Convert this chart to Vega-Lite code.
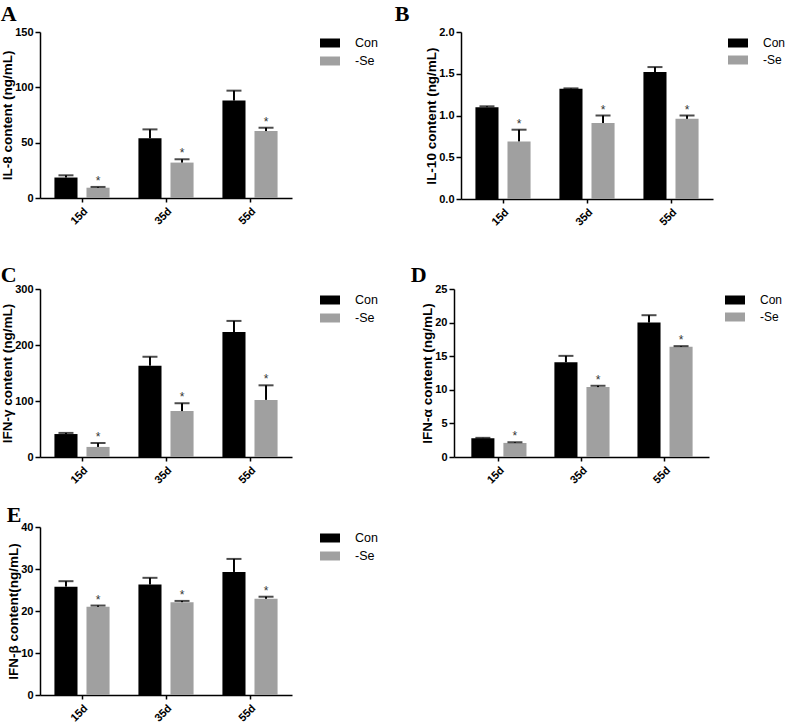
{
  "$schema": "https://vega.github.io/schema/vega-lite/v6.json",
  "background": "white",
  "padding": {"left": 0, "top": 3, "right": 0, "bottom": 0},
  "config": {
    "view": {"stroke": null},
    "font": "Liberation Sans",
    "axis": {"domainColor": "black", "domainWidth": 1.5, "tickColor": "black", "tickWidth": 1.5, "labelFont": "Liberation Sans", "labelFontWeight": "bold", "labelFontSize": 11, "labelColor": "black", "titleFont": "Liberation Sans", "titleFontSize": 13.5, "titleFontWeight": "bold", "titleColor": "black", "grid": false, "tickSize": 5, "labelPadding": 2, "titlePadding": 0},
    "axisX": {"labelAngle": -45, "tickSize": 4, "labelPadding": 3},
    "title": {"font": "Liberation Serif", "fontSize": 22, "fontWeight": "bold", "anchor": "start", "color": "black"},
    "legend": {"labelFont": "Liberation Sans", "labelFontSize": 12.5, "labelColor": "black", "labelOffset": 16, "rowPadding": 2, "offset": 27, "padding": 2}
  },
  "datasets": {
    "A": [
      {"day": "15d", "group": "Con", "value": 18.5, "upper": 20.5, "sig": false},
      {"day": "15d", "group": "-Se", "value": 9.3, "upper": 10, "sig": true},
      {"day": "35d", "group": "Con", "value": 54, "upper": 62, "sig": false},
      {"day": "35d", "group": "-Se", "value": 32, "upper": 35, "sig": true},
      {"day": "55d", "group": "Con", "value": 88, "upper": 97, "sig": false},
      {"day": "55d", "group": "-Se", "value": 60.5, "upper": 63.5, "sig": true}
    ],
    "B": [
      {"day": "15d", "group": "Con", "value": 1.10, "upper": 1.11, "sig": false},
      {"day": "15d", "group": "-Se", "value": 0.69, "upper": 0.83, "sig": true},
      {"day": "35d", "group": "Con", "value": 1.32, "upper": 1.325, "sig": false},
      {"day": "35d", "group": "-Se", "value": 0.91, "upper": 1.0, "sig": true},
      {"day": "55d", "group": "Con", "value": 1.52, "upper": 1.58, "sig": false},
      {"day": "55d", "group": "-Se", "value": 0.96, "upper": 1.0, "sig": true}
    ],
    "C": [
      {"day": "15d", "group": "Con", "value": 41, "upper": 43, "sig": false},
      {"day": "15d", "group": "-Se", "value": 18, "upper": 25, "sig": true},
      {"day": "35d", "group": "Con", "value": 163, "upper": 179, "sig": false},
      {"day": "35d", "group": "-Se", "value": 82, "upper": 96, "sig": true},
      {"day": "55d", "group": "Con", "value": 223, "upper": 243, "sig": false},
      {"day": "55d", "group": "-Se", "value": 102, "upper": 128, "sig": true}
    ],
    "D": [
      {"day": "15d", "group": "Con", "value": 2.8, "upper": 2.85, "sig": false},
      {"day": "15d", "group": "-Se", "value": 2.1, "upper": 2.2, "sig": true},
      {"day": "35d", "group": "Con", "value": 14.1, "upper": 15.05, "sig": false},
      {"day": "35d", "group": "-Se", "value": 10.4, "upper": 10.6, "sig": true},
      {"day": "55d", "group": "Con", "value": 20, "upper": 21.1, "sig": false},
      {"day": "55d", "group": "-Se", "value": 16.4, "upper": 16.5, "sig": true}
    ],
    "E": [
      {"day": "15d", "group": "Con", "value": 25.8, "upper": 27.1, "sig": false},
      {"day": "15d", "group": "-Se", "value": 21.0, "upper": 21.3, "sig": true},
      {"day": "35d", "group": "Con", "value": 26.3, "upper": 27.9, "sig": false},
      {"day": "35d", "group": "-Se", "value": 22.1, "upper": 22.4, "sig": true},
      {"day": "55d", "group": "Con", "value": 29.3, "upper": 32.4, "sig": false},
      {"day": "55d", "group": "-Se", "value": 22.9, "upper": 23.4, "sig": true}
    ]
  },
  "spacing": 36,
  "resolve": {"scale": {"color": "independent"}, "legend": {"color": "independent"}},
  "vconcat": [
    {
      "spacing": 14,
      "resolve": {"scale": {"color": "independent"}, "legend": {"color": "independent"}},
      "hconcat": [
        {
          "title": {"text": "A", "offset": 0},
          "width": 252, "height": 166,
          "data": {"name": "A"},
          "encoding": {
            "x": {"field": "day", "type": "nominal", "sort": ["15d", "35d", "55d"], "scale": {"paddingInner": 0, "paddingOuter": 0}, "axis": {"title": null}},
            "xOffset": {"field": "group", "type": "nominal", "sort": ["Con", "-Se"], "scale": {"paddingInner": 0.28, "paddingOuter": 0.45}},
            "y": {"field": "value", "type": "quantitative", "scale": {"domain": [0, 150], "nice": false}, "axis": {"values": [0, 50, 100, 150], "title": "IL-8 content (ng/mL)"}}
          },
          "layer": [
            {"mark": {"type": "bar"}, "encoding": {
              "color": {"field": "group", "type": "nominal", "scale": {"domain": ["Con", "-Se"], "range": ["#000000", "#a0a0a0"]}, "legend": {"title": null, "symbolType": "M-1.11,-0.5H1.11V0.5H-1.11Z", "symbolSize": 324, "symbolStrokeWidth": 0}}}},
            {"mark": {"type": "rule", "strokeWidth": 2, "color": "black"}, "encoding": {"y2": {"field": "upper"}}},
            {"mark": {"type": "tick", "thickness": 2, "size": 15, "color": "black"}, "encoding": {"y": {"field": "upper", "type": "quantitative", "scale": {"domain": [0, 150], "nice": false}, "axis": {"values": [0, 50, 100, 150], "title": "IL-8 content (ng/mL)"}}}},
            {"transform": [{"filter": "datum.sig"}], "mark": {"type": "text", "text": "*", "baseline": "alphabetic", "dy": -2, "fontSize": 12, "color": "#333333"}, "encoding": {"y": {"field": "upper", "type": "quantitative", "scale": {"domain": [0, 150], "nice": false}, "axis": {"values": [0, 50, 100, 150], "title": "IL-8 content (ng/mL)"}}}}
          ]
        },
        {
          "title": {"text": "B", "offset": 0, "dx": -30},
          "width": 252, "height": 167,
          "data": {"name": "B"},
          "encoding": {
            "x": {"field": "day", "type": "nominal", "sort": ["15d", "35d", "55d"], "scale": {"paddingInner": 0, "paddingOuter": 0}, "axis": {"title": null}},
            "xOffset": {"field": "group", "type": "nominal", "sort": ["Con", "-Se"], "scale": {"paddingInner": 0.28, "paddingOuter": 0.45}},
            "y": {"field": "value", "type": "quantitative", "scale": {"domain": [0, 2], "nice": false}, "axis": {"values": [0, 0.5, 1, 1.5, 2], "format": ".1f", "title": "IL-10 content (ng/mL)"}}
          },
          "layer": [
            {"mark": {"type": "bar"}, "encoding": {
              "color": {"field": "group", "type": "nominal", "scale": {"domain": ["Con", "-Se"], "range": ["#000000", "#a0a0a0"]}, "legend": {"title": null, "offset": 14, "labelFontSize": 12, "symbolType": "M-1.11,-0.5H1.11V0.5H-1.11Z", "symbolSize": 324, "symbolStrokeWidth": 0}}}},
            {"mark": {"type": "rule", "strokeWidth": 2, "color": "black"}, "encoding": {"y2": {"field": "upper"}}},
            {"mark": {"type": "tick", "thickness": 2, "size": 15, "color": "black"}, "encoding": {"y": {"field": "upper", "type": "quantitative", "scale": {"domain": [0, 2], "nice": false}, "axis": {"values": [0, 0.5, 1, 1.5, 2], "format": ".1f", "title": "IL-10 content (ng/mL)"}}}},
            {"transform": [{"filter": "datum.sig"}], "mark": {"type": "text", "text": "*", "baseline": "alphabetic", "dy": -2, "fontSize": 12, "color": "#333333"}, "encoding": {"y": {"field": "upper", "type": "quantitative", "scale": {"domain": [0, 2], "nice": false}, "axis": {"values": [0, 0.5, 1, 1.5, 2], "format": ".1f", "title": "IL-10 content (ng/mL)"}}}}
          ]
        }
      ]
    },
    {
      "spacing": 18,
      "resolve": {"scale": {"color": "independent"}, "legend": {"color": "independent"}},
      "vconcat": [
        {
          "spacing": 30,
          "resolve": {"scale": {"color": "independent"}, "legend": {"color": "independent"}},
          "hconcat": [
            {
              "title": {"text": "C", "offset": -4},
              "width": 252, "height": 168,
              "data": {"name": "C"},
              "encoding": {
                "x": {"field": "day", "type": "nominal", "sort": ["15d", "35d", "55d"], "scale": {"paddingInner": 0, "paddingOuter": 0}, "axis": {"title": null}},
                "xOffset": {"field": "group", "type": "nominal", "sort": ["Con", "-Se"], "scale": {"paddingInner": 0.28, "paddingOuter": 0.45}},
                "y": {"field": "value", "type": "quantitative", "scale": {"domain": [0, 300], "nice": false}, "axis": {"values": [0, 100, 200, 300], "title": "IFN-γ content (ng/mL)"}}
              },
              "layer": [
                {"mark": {"type": "bar"}, "encoding": {
                  "color": {"field": "group", "type": "nominal", "scale": {"domain": ["Con", "-Se"], "range": ["#000000", "#a0a0a0"]}, "legend": {"title": null, "symbolType": "M-1.11,-0.5H1.11V0.5H-1.11Z", "symbolSize": 324, "symbolStrokeWidth": 0}}}},
                {"mark": {"type": "rule", "strokeWidth": 2, "color": "black"}, "encoding": {"y2": {"field": "upper"}}},
                {"mark": {"type": "tick", "thickness": 2, "size": 15, "color": "black"}, "encoding": {"y": {"field": "upper", "type": "quantitative", "scale": {"domain": [0, 300], "nice": false}, "axis": {"values": [0, 100, 200, 300], "title": "IFN-γ content (ng/mL)"}}}},
                {"transform": [{"filter": "datum.sig"}], "mark": {"type": "text", "text": "*", "baseline": "alphabetic", "dy": -2, "fontSize": 12, "color": "#333333"}, "encoding": {"y": {"field": "upper", "type": "quantitative", "scale": {"domain": [0, 300], "nice": false}, "axis": {"values": [0, 100, 200, 300], "title": "IFN-γ content (ng/mL)"}}}}
              ]
            },
            {
              "title": {"text": "D", "offset": -4, "dx": -10},
              "width": 255, "height": 168,
              "data": {"name": "D"},
              "encoding": {
                "x": {"field": "day", "type": "nominal", "sort": ["15d", "35d", "55d"], "scale": {"paddingInner": 0, "paddingOuter": 0.035}, "axis": {"title": null}},
                "xOffset": {"field": "group", "type": "nominal", "sort": ["Con", "-Se"], "scale": {"paddingInner": 0.28, "paddingOuter": 0.45}},
                "y": {"field": "value", "type": "quantitative", "scale": {"domain": [0, 25], "nice": false}, "axis": {"values": [0, 5, 10, 15, 20, 25], "title": "IFN-α content (ng/mL)"}}
              },
              "layer": [
                {"mark": {"type": "bar"}, "encoding": {
                  "color": {"field": "group", "type": "nominal", "scale": {"domain": ["Con", "-Se"], "range": ["#000000", "#a0a0a0"]}, "legend": {"title": null, "offset": 15, "labelFontSize": 12, "symbolType": "M-1.11,-0.5H1.11V0.5H-1.11Z", "symbolSize": 324, "symbolStrokeWidth": 0}}}},
                {"mark": {"type": "rule", "strokeWidth": 2, "color": "black"}, "encoding": {"y2": {"field": "upper"}}},
                {"mark": {"type": "tick", "thickness": 2, "size": 15, "color": "black"}, "encoding": {"y": {"field": "upper", "type": "quantitative", "scale": {"domain": [0, 25], "nice": false}, "axis": {"values": [0, 5, 10, 15, 20, 25], "title": "IFN-α content (ng/mL)"}}}},
                {"transform": [{"filter": "datum.sig"}], "mark": {"type": "text", "text": "*", "baseline": "alphabetic", "dy": -2, "fontSize": 12, "color": "#333333"}, "encoding": {"y": {"field": "upper", "type": "quantitative", "scale": {"domain": [0, 25], "nice": false}, "axis": {"values": [0, 5, 10, 15, 20, 25], "title": "IFN-α content (ng/mL)"}}}}
              ]
            }
          ]
        },
        {
          "title": {"text": "E", "offset": -6},
          "width": 252, "height": 168,
          "data": {"name": "E"},
          "encoding": {
            "x": {"field": "day", "type": "nominal", "sort": ["15d", "35d", "55d"], "scale": {"paddingInner": 0, "paddingOuter": 0}, "axis": {"title": null}},
            "xOffset": {"field": "group", "type": "nominal", "sort": ["Con", "-Se"], "scale": {"paddingInner": 0.28, "paddingOuter": 0.45}},
            "y": {"field": "value", "type": "quantitative", "scale": {"domain": [0, 40], "nice": false}, "axis": {"values": [0, 10, 20, 30, 40], "title": "IFN-β content(ng/mL)"}}
          },
          "layer": [
            {"mark": {"type": "bar"}, "encoding": {
              "color": {"field": "group", "type": "nominal", "scale": {"domain": ["Con", "-Se"], "range": ["#000000", "#a0a0a0"]}, "legend": {"title": null, "symbolType": "M-1.11,-0.5H1.11V0.5H-1.11Z", "symbolSize": 324, "symbolStrokeWidth": 0}}}},
            {"mark": {"type": "rule", "strokeWidth": 2, "color": "black"}, "encoding": {"y2": {"field": "upper"}}},
            {"mark": {"type": "tick", "thickness": 2, "size": 15, "color": "black"}, "encoding": {"y": {"field": "upper", "type": "quantitative", "scale": {"domain": [0, 40], "nice": false}, "axis": {"values": [0, 10, 20, 30, 40], "title": "IFN-β content(ng/mL)"}}}},
            {"transform": [{"filter": "datum.sig"}], "mark": {"type": "text", "text": "*", "baseline": "alphabetic", "dy": -2, "fontSize": 12, "color": "#333333"}, "encoding": {"y": {"field": "upper", "type": "quantitative", "scale": {"domain": [0, 40], "nice": false}, "axis": {"values": [0, 10, 20, 30, 40], "title": "IFN-β content(ng/mL)"}}}}
          ]
        }
      ]
    }
  ]
}
